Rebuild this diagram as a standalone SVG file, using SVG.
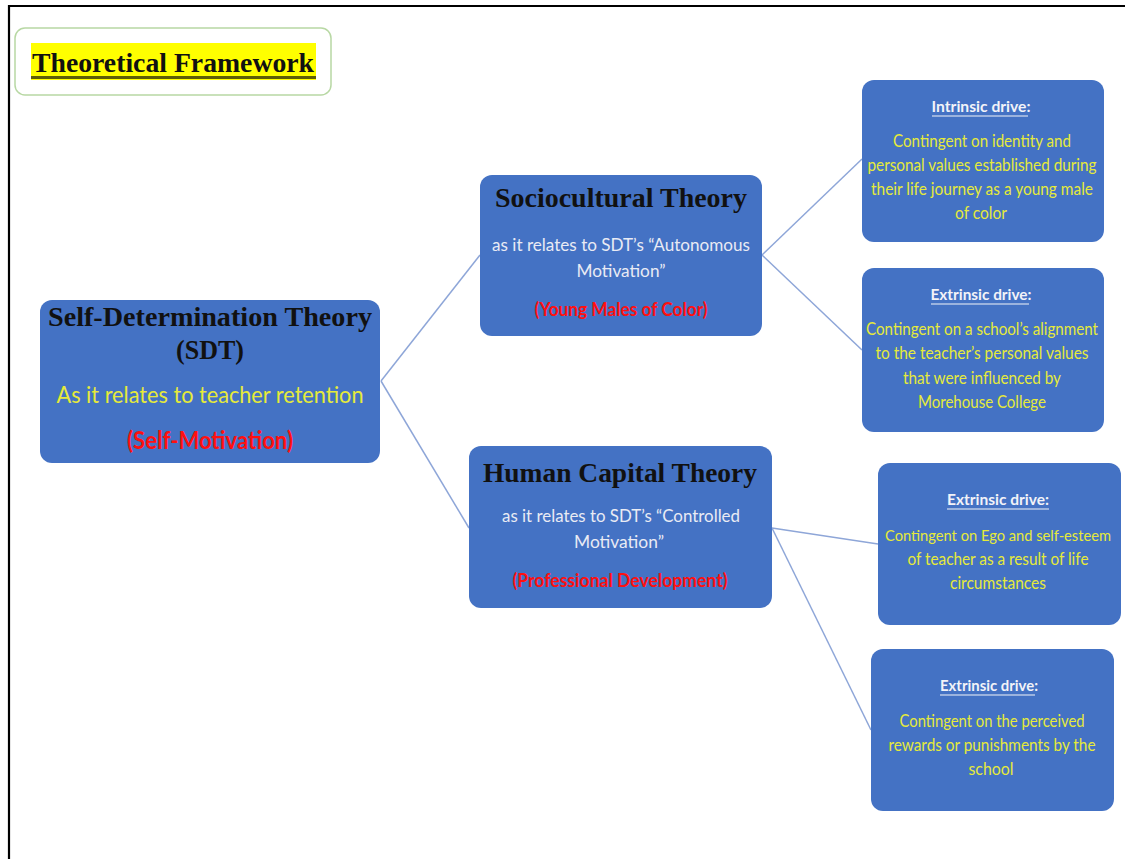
<svg xmlns="http://www.w3.org/2000/svg" width="1125" height="859" viewBox="0 0 1125 859">
  <style>
    .box { fill: #4472C4; }
    .head { font-family: "Liberation Serif", "DejaVu Serif", serif; font-weight: bold; fill: #111111; text-anchor: middle; }
    .sans { font-family: Lato, "Liberation Sans", sans-serif; text-anchor: middle; }
    .yel { fill: #e6ea3a; }
    .wht { fill: #e9ebf4; }
    .red { fill: #ff1010; font-weight: bold; }
    .hdr { fill: #f2f3f8; font-weight: bold; }
    .uline { stroke: #f2f3f8; stroke-width: 1.2; }
    .conn { stroke: #8ea6d8; stroke-width: 1.5; fill: none; }
  </style>

  <rect x="0" y="0" width="1125" height="859" fill="#ffffff"/>

  <!-- frame edges -->
  <line x1="8" y1="6" x2="1125" y2="6" stroke="#000" stroke-width="2.2"/>
  <line x1="9" y1="5" x2="9" y2="859" stroke="#000" stroke-width="2.2"/>

  <!-- heading -->
  <g id="title">
    <rect x="15" y="28" width="316" height="67" rx="10" fill="#ffffff" stroke="#b8d8a4" stroke-width="1.5"/>
    <rect x="31" y="43" width="285" height="37" fill="#ffff00"/>
    <line x1="31" y1="77.5" x2="316" y2="77.5" stroke="#5e5e08" stroke-width="3"/>
    <text x="173" y="72" class="head" font-size="27" textLength="282" lengthAdjust="spacingAndGlyphs">Theoretical Framework</text>
  </g>

  <!-- connectors -->
  <g id="connectors">
    <line class="conn" x1="381" y1="381" x2="480" y2="255"/>
    <line class="conn" x1="381" y1="381" x2="469" y2="528"/>
    <line class="conn" x1="762" y1="255" x2="862" y2="159"/>
    <line class="conn" x1="762" y1="255" x2="862" y2="350"/>
    <line class="conn" x1="772" y1="528" x2="878" y2="544"/>
    <line class="conn" x1="772" y1="528" x2="871" y2="730"/>
  </g>

  <g id="sdt">
    <rect class="box" x="40" y="300" width="340" height="163" rx="12"/>
    <text x="210" y="326" class="head" font-size="28" textLength="324" lengthAdjust="spacingAndGlyphs">Self-Determination Theory</text>
    <text x="210" y="359" class="head" font-size="28" textLength="68" lengthAdjust="spacingAndGlyphs">(SDT)</text>
    <text x="210" y="403" class="sans yel" font-size="24" textLength="307" lengthAdjust="spacingAndGlyphs">As it relates to teacher retention</text>
    <text x="210" y="449" class="sans red" font-size="24" textLength="166" lengthAdjust="spacingAndGlyphs">(Self-Motivation)</text>
  </g>

  <g id="sociocultural">
    <rect class="box" x="480" y="175" width="282" height="161" rx="12"/>
    <text x="621" y="207" class="head" font-size="27" textLength="252" lengthAdjust="spacingAndGlyphs">Sociocultural Theory</text>
    <text x="621" y="251" class="sans wht" font-size="18" textLength="258" lengthAdjust="spacingAndGlyphs">as it relates to SDT’s “Autonomous</text>
    <text x="621" y="277" class="sans wht" font-size="18" textLength="89" lengthAdjust="spacingAndGlyphs">Motivation”</text>
    <text x="621" y="316" class="sans red" font-size="19" textLength="173" lengthAdjust="spacingAndGlyphs">(Young Males of Color)</text>
  </g>

  <g id="human-capital">
    <rect class="box" x="469" y="446" width="303" height="162" rx="12"/>
    <text x="620" y="482" class="head" font-size="27" textLength="274" lengthAdjust="spacingAndGlyphs">Human Capital Theory</text>
    <text x="621" y="522" class="sans wht" font-size="18" textLength="238" lengthAdjust="spacingAndGlyphs">as it relates to SDT’s “Controlled</text>
    <text x="619" y="548" class="sans wht" font-size="18" textLength="90" lengthAdjust="spacingAndGlyphs">Motivation”</text>
    <text x="620" y="587" class="sans red" font-size="19" textLength="215" lengthAdjust="spacingAndGlyphs">(Professional  Development)</text>
  </g>

  <g id="intrinsic">
    <rect class="box" x="862" y="80" width="242" height="162" rx="12"/>
    <text x="981" y="112" class="sans hdr" font-size="15" textLength="99" lengthAdjust="spacingAndGlyphs">Intrinsic drive:</text>
    <line class="uline" x1="932" y1="116" x2="1028" y2="116"/>
    <text x="982" y="147" class="sans yel" font-size="17" textLength="178" lengthAdjust="spacingAndGlyphs">Contingent on identity and</text>
    <text x="982" y="171" class="sans yel" font-size="17" textLength="229" lengthAdjust="spacingAndGlyphs">personal values established during</text>
    <text x="982" y="195" class="sans yel" font-size="17" textLength="222" lengthAdjust="spacingAndGlyphs">their life journey as a young male</text>
    <text x="981" y="219" class="sans yel" font-size="17" textLength="52" lengthAdjust="spacingAndGlyphs">of color</text>
  </g>

  <g id="extrinsic-alignment">
    <rect class="box" x="862" y="268" width="242" height="164" rx="12"/>
    <text x="981" y="300" class="sans hdr" font-size="15" textLength="101" lengthAdjust="spacingAndGlyphs">Extrinsic drive:</text>
    <line class="uline" x1="931" y1="304" x2="1029" y2="304"/>
    <text x="982" y="335" class="sans yel" font-size="17" textLength="232" lengthAdjust="spacingAndGlyphs">Contingent on a school’s alignment</text>
    <text x="982" y="359" class="sans yel" font-size="17" textLength="213" lengthAdjust="spacingAndGlyphs">to the teacher’s personal values</text>
    <text x="982" y="384" class="sans yel" font-size="17" textLength="158" lengthAdjust="spacingAndGlyphs">that were influenced by</text>
    <text x="982" y="408" class="sans yel" font-size="17" textLength="128" lengthAdjust="spacingAndGlyphs">Morehouse College</text>
  </g>

  <g id="extrinsic-ego">
    <rect class="box" x="878" y="463" width="243" height="162" rx="12"/>
    <text x="998" y="505" class="sans hdr" font-size="15" textLength="102" lengthAdjust="spacingAndGlyphs">Extrinsic drive:</text>
    <line class="uline" x1="947" y1="509" x2="1049" y2="509"/>
    <text x="998" y="541" class="sans yel" font-size="15" textLength="226" lengthAdjust="spacingAndGlyphs">Contingent on Ego and self-esteem</text>
    <text x="998" y="565" class="sans yel" font-size="17" textLength="181" lengthAdjust="spacingAndGlyphs">of teacher as a result of life</text>
    <text x="998" y="589" class="sans yel" font-size="17" textLength="96" lengthAdjust="spacingAndGlyphs">circumstances</text>
  </g>

  <g id="extrinsic-rewards">
    <rect class="box" x="871" y="649" width="243" height="162" rx="12"/>
    <text x="989" y="691" class="sans hdr" font-size="15" textLength="98" lengthAdjust="spacingAndGlyphs">Extrinsic drive:</text>
    <line class="uline" x1="940" y1="695" x2="1035" y2="695"/>
    <text x="992" y="727" class="sans yel" font-size="17" textLength="185" lengthAdjust="spacingAndGlyphs">Contingent on the perceived</text>
    <text x="992" y="751" class="sans yel" font-size="17" textLength="207" lengthAdjust="spacingAndGlyphs">rewards or punishments by the</text>
    <text x="991" y="775" class="sans yel" font-size="17" textLength="45" lengthAdjust="spacingAndGlyphs">school</text>
  </g>
</svg>
